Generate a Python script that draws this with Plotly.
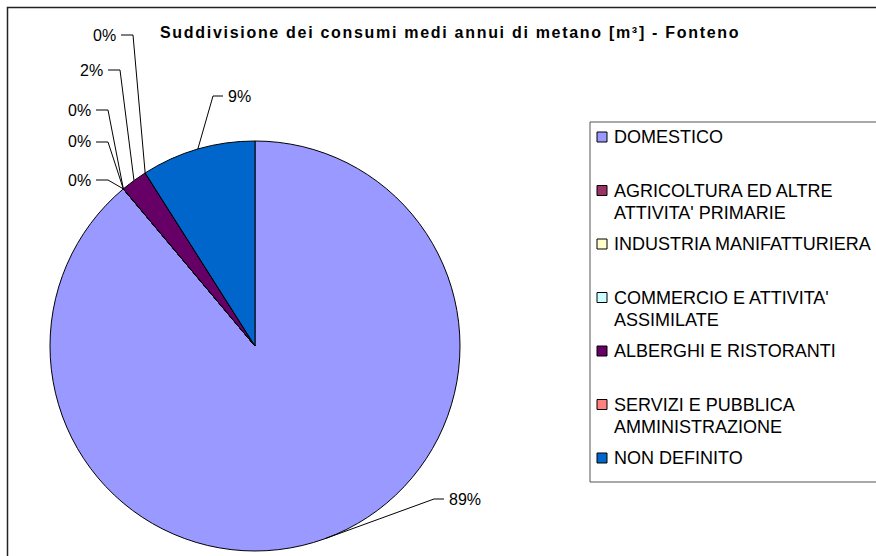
import math
import plotly.graph_objects as go

# Shares of average annual methane consumption by sector (percent)
categories = [
    "DOMESTICO",
    "AGRICOLTURA ED ALTRE<br>ATTIVITA' PRIMARIE",
    "INDUSTRIA MANIFATTURIERA",
    "COMMERCIO E ATTIVITA'<br>ASSIMILATE",
    "ALBERGHI E RISTORANTI",
    "SERVIZI E PUBBLICA<br>AMMINISTRAZIONE",
    "NON DEFINITO",
]
shares = [88.9, 0.0, 0.0, 0.0, 2.1, 0.0, 9.0]
colors = ["#9999FF", "#993366", "#FFFFCC", "#CCFFFF", "#660066", "#FF8080", "#0066CC"]

title = "Suddivisione dei consumi medi annui di metano [m³] - Fonteno"

W, H = 876, 556
CX, CY, R = 255, 346, 205          # pie centre and radius (px)
FONT = "Liberation Sans, Arial, sans-serif"

# where each percentage label sits (px) and which side the leader leaves from
label_pos = [
    (447, 499, "left"),
    (93, 180, "right"),
    (93, 142, "right"),
    (93, 110, "right"),
    (105, 70, "right"),
    (118, 35, "right"),
    (226, 96, "left"),
]


def px(x):
    return x / W


def py(y):
    return 1 - y / H


fig = go.Figure(
    go.Pie(
        labels=[c.replace("<br>", " ") for c in categories],
        values=shares,
        sort=False,
        direction="clockwise",
        rotation=0,
        marker=dict(colors=colors, line=dict(color="black", width=1)),
        textinfo="none",
        hoverinfo="label+percent",
        showlegend=False,
        domain=dict(x=[px(CX - R), px(CX + R)], y=[py(CY + R), py(CY - R)]),
    )
)

shapes = []
annotations = []

# percentage labels with leader lines to the middle of each slice
total = sum(shares)
cum = 0.0
for val, (lx, ly, side) in zip(shares, label_pos):
    mid = (cum + val / 2) / total * 2 * math.pi
    cum += val
    ax = CX + R * math.sin(mid)
    ay = CY - R * math.cos(mid)
    pct = f"{round(val / total * 100):.0f}%"
    if side == "right":
        x0, x1 = lx + 3, lx + 15
        xanchor = "right"
    else:
        x0, x1 = lx - 3, lx - 13
        xanchor = "left"
    shapes.append(dict(
        type="path", xref="paper", yref="paper",
        path=f"M {px(x0)} {py(ly)} L {px(x1)} {py(ly)} L {px(ax)} {py(ay)}",
        line=dict(color="black", width=1),
    ))
    annotations.append(dict(
        x=px(lx), y=py(ly), xref="paper", yref="paper",
        text=pct, showarrow=False, xanchor=xanchor, yanchor="middle",
        font=dict(family=FONT, size=16, color="black"),
    ))

# legend: box, swatches and labels in equal slots
LEG_L, LEG_T, LEG_B = 590, 122, 482
FIRST, SLOT, LINE = 137, 53.5, 22.5
shapes.append(dict(
    type="rect", xref="paper", yref="paper",
    x0=px(LEG_L), x1=px(W + 10), y0=py(LEG_T), y1=py(LEG_B),
    line=dict(color="#555555", width=1), fillcolor="rgba(0,0,0,0)",
))
for i, (name, col) in enumerate(zip(categories, colors)):
    y0 = FIRST + SLOT * i
    shapes.append(dict(
        type="rect", xref="paper", yref="paper",
        x0=px(597), x1=px(607), y0=py(y0 - 5), y1=py(y0 + 5),
        fillcolor=col, line=dict(color="black", width=1),
    ))
    for j, part in enumerate(name.split("<br>")):
        annotations.append(dict(
            x=px(612), y=py(y0 + LINE * j), xref="paper", yref="paper",
            text=part, showarrow=False, xanchor="left", yanchor="middle",
            font=dict(family=FONT, size=18, color="black"),
        ))

# outer frame of the chart area
shapes.append(dict(
    type="rect", xref="paper", yref="paper",
    x0=px(7.5), x1=px(W + 20), y0=py(H + 20), y1=py(7.5),
    line=dict(color="#222222", width=1.5), fillcolor="rgba(0,0,0,0)",
))

annotations.append(dict(
    x=px(158), y=py(33), xref="paper", yref="paper",
    text=f"<b>{title}</b>", showarrow=False, xanchor="left", yanchor="middle",
    align="left", name="chart-title",
    font=dict(family=FONT, size=16, color="black"),
))

fig.update_layout(
    width=W, height=H,
    margin=dict(l=0, r=0, t=0, b=0),
    paper_bgcolor="white",
    plot_bgcolor="white",
    shapes=shapes,
    annotations=annotations,
)

# the title is typeset with wide tracking
tracking_js = """
var gd = document.getElementById('{plot_id}');
gd.querySelectorAll('.annotation-text').forEach(function (t) {
    if (t.textContent.indexOf('Suddivisione') === 0) {
        t.style.letterSpacing = '1.7px';
    }
});
"""

fig.write_html("out.html", post_script=tracking_js)
